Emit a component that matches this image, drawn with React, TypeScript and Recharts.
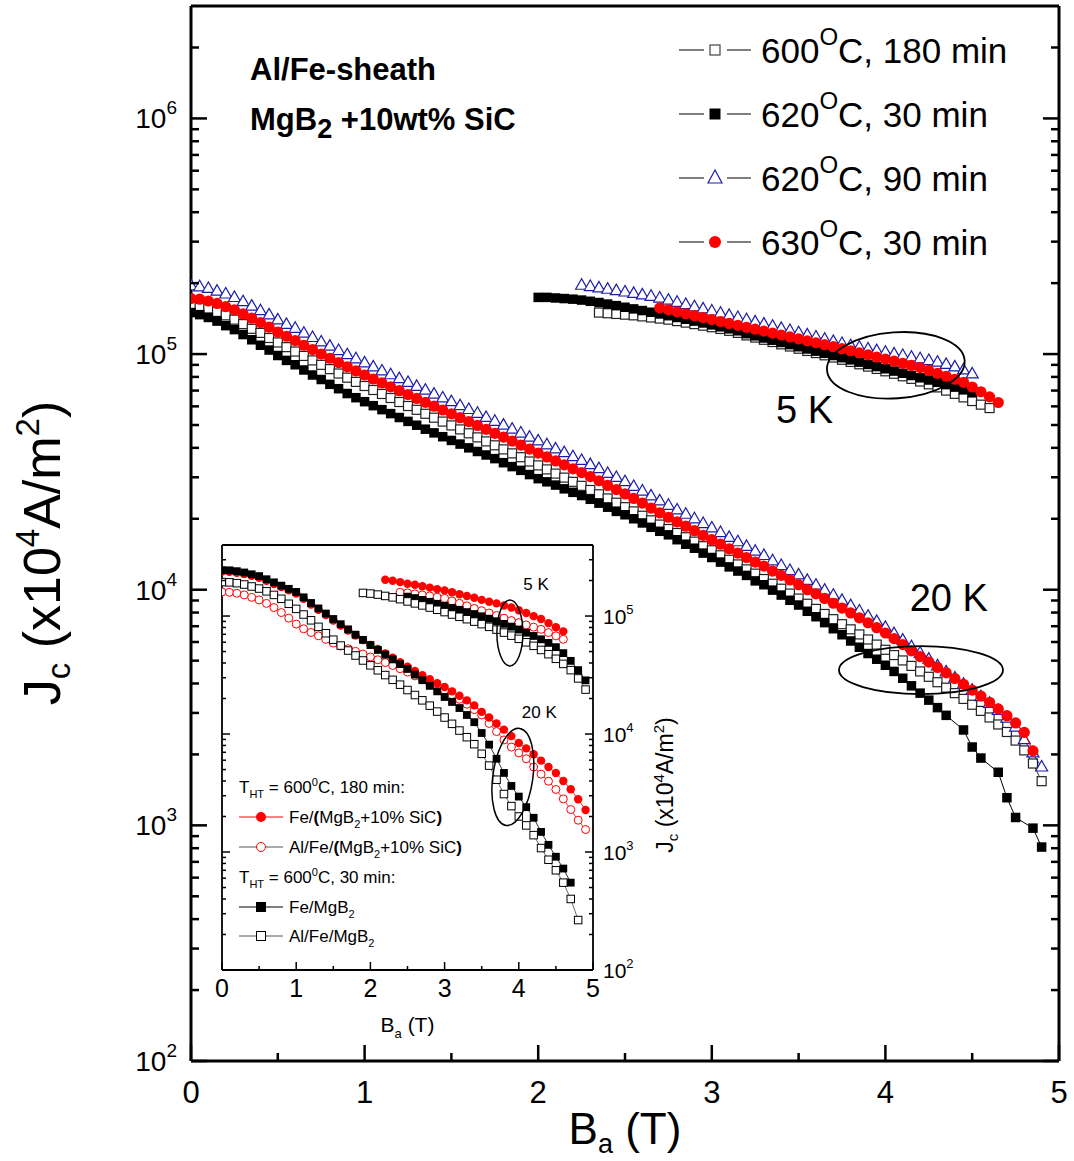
import React from "react";
import { ScatterChart, Scatter, XAxis, YAxis, ReferenceDot, Legend } from "recharts";

const FONT = "'Liberation Sans', Arial, Helvetica, sans-serif";
const NAVY = "#1c1ca8";
const RED = "#ff0000";

// ---------------- main chart: applied field grids (T) ----------------
const MAIN_20K_B = [
  0, 0.05, 0.1, 0.15, 0.2, 0.25, 0.3, 0.35, 0.4, 0.45,
  0.5, 0.55, 0.6, 0.65, 0.7, 0.75, 0.8, 0.85, 0.9, 0.95,
  1, 1.05, 1.1, 1.15, 1.2, 1.25, 1.3, 1.35, 1.4, 1.45,
  1.5, 1.55, 1.6, 1.65, 1.7, 1.75, 1.8, 1.85, 1.9, 1.95,
  2, 2.05, 2.1, 2.15, 2.2, 2.25, 2.3, 2.35, 2.4, 2.45,
  2.5, 2.55, 2.6, 2.65, 2.7, 2.75, 2.8, 2.85, 2.9, 2.95,
  3, 3.05, 3.1, 3.15, 3.2, 3.25, 3.3, 3.35, 3.4, 3.45,
  3.5, 3.55, 3.6, 3.65, 3.7, 3.75, 3.8, 3.85, 3.9, 3.95,
  4, 4.05, 4.1, 4.15, 4.2, 4.25, 4.3, 4.35, 4.4, 4.45,
  4.5, 4.55, 4.6, 4.65, 4.7, 4.75, 4.8, 4.85, 4.9,
];
const MAIN_5K_B = [
  2, 2.05, 2.1, 2.15, 2.2, 2.25, 2.3, 2.35, 2.4, 2.45,
  2.5, 2.55, 2.6, 2.65, 2.7, 2.75, 2.8, 2.85, 2.9, 2.95,
  3, 3.05, 3.1, 3.15, 3.2, 3.25, 3.3, 3.35, 3.4, 3.45,
  3.5, 3.55, 3.6, 3.65, 3.7, 3.75, 3.8, 3.85, 3.9, 3.95,
  4, 4.05, 4.1, 4.15, 4.2, 4.25, 4.3, 4.35, 4.4, 4.45,
  4.5, 4.55, 4.6, 4.65,
];

// Jc (x10^4 A/m^2), 20 K
const J20_600C_180 = [
  161000, 159000, 156000, 151000, 146000, 140000, 134000, 128000, 123000, 117000,
  112000, 107000, 102500, 98200, 94000, 90000, 86300, 82700, 79400, 76200,
  73200, 70400, 67700, 65100, 62600, 60200, 58000, 55800, 53700, 51700,
  49800, 47900, 46100, 44300, 42600, 41000, 39400, 37900, 36500, 35000,
  33700, 32400, 31100, 29900, 28700, 27600, 26500, 25400, 24400, 23400,
  22400, 21500, 20600, 19700, 18900, 18100, 17400, 16700, 16000, 15300,
  14700, 14000, 13400, 12800, 12200, 11700, 11100, 10600, 10100, 9630,
  9170, 8720, 8290, 7890, 7500, 7140, 6790, 6460, 6150, 5850,
  5560, 5280, 5010, 4750, 4500, 4270, 4050, 3840, 3640, 3440,
  3250, 3060, 2870, 2680, 2490, 2290, 2080, 1830, 1540,
];
const J20_620C_30 = [
  150000, 147000, 143000, 138000, 132000, 127000, 121000, 115000, 109000, 104000,
  98600, 94000, 90100, 85600, 81500, 78000, 74400, 71300, 68000, 65300,
  62800, 60400, 58100, 55900, 53800, 51800, 49900, 48000, 46300, 44600,
  43000, 41500, 40000, 38600, 37300, 36000, 34600, 33300, 32100, 30800,
  29600, 28700, 27800, 26800, 25900, 25100, 24200, 23300, 22400, 21500,
  20800, 20000, 19200, 18400, 17700, 17100, 16300, 15600, 15000, 14300,
  13700, 13100, 12500, 12000, 11500, 10900, 10500, 9960, 9490, 9020,
  8610, 8100, 7680, 7250, 6830, 6440, 6060, 5700, 5360, 5070,
  4780, 4500, 4210, 3910, 3640, 3400, 3160, 2930, null, 2540,
  2150, 1930, null, 1680, 1310, 1080, null, 973, 809,
];
const J20_620C_90 = [
  194000, 192000, 189000, 184000, 179000, 173000, 166000, 159000, 152000, 146000,
  139000, 133000, 128000, 122000, 117000, 112000, 107500, 103000, 98900, 95000,
  91300, 87800, 84400, 81300, 78300, 75400, 72600, 69900, 67300, 64800,
  62500, 60100, 57900, 55800, 53600, 51600, 49700, 47800, 46000, 44200,
  42600, 41000, 39400, 38000, 36500, 35200, 33800, 32500, 31000, 29800,
  28600, 27300, 26100, 24900, 23700, 22700, 21700, 20800, 19900, 19000,
  18200, 17400, 16600, 15900, 15200, 14500, 13900, 13200, 12600, 12000,
  11500, 10900, 10400, 9900, 9430, 8970, 8520, 8080, 7680, 7300,
  6890, 6480, 6080, 5700, 5360, 5050, 4730, 4460, 4200, 3950,
  3730, 3500, 3280, 3060, 2840, 2600, 2300, 2020, 1760,
];
const J20_630C_30 = [
  172000, 171000, 168000, 164000, 159000, 154000, 148000, 142000, 136000, 130000,
  124000, 119000, 114000, 109000, 104500, 100000, 96000, 92000, 88300, 84800,
  81500, 78400, 75400, 72600, 69900, 67300, 64800, 62400, 60100, 57900,
  55800, 53700, 51700, 49800, 47900, 46100, 44400, 42700, 41100, 39500,
  38000, 36600, 35200, 33900, 32600, 31400, 30200, 29000, 27700, 26600,
  25500, 24400, 23300, 22200, 21200, 20300, 19400, 18600, 17800, 17000,
  16300, 15600, 14900, 14300, 13700, 13100, 12600, 12000, 11500, 11000,
  10500, 10000, 9600, 9180, 8760, 8360, 7970, 7600, 7240, 6900,
  6550, 6200, 5850, 5500, 5200, 4930, 4680, 4440, 4200, 3970,
  3750, 3540, 3330, 3120, 2920, 2720, 2480, 2070, null,
];

// Jc, 5 K
const J5_600C_180 = [
  null, null, null, null, null, null, null, 150000, 149000, 148000,
  147000, 146000, 144500, 143000, 141500, 140000, 138000, 136000, 134000, 132000,
  130000, 127800, 125500, 123000, 120000, 117500, 115000, 112500, 110000, 107700,
  105400, 103100, 101000, 98800, 96700, 94600, 92600, 90500, 88500, 86500,
  84500, 82500, 80500, 78500, 76500, 74400, 72200, 70000, 67800, 65500,
  63200, 61000, 59000, null,
];
const J5_620C_30 = [
  174000, 174000, 173000, 172000, 171000, 169500, 167500, 165500, 163000, 160500,
  158000, 155500, 153000, 150500, 148000, 145500, 143000, 140500, 138000, 135500,
  133000, 130500, 128000, 125500, 122000, 119500, 117000, 114500, 112000, 109700,
  107400, 105100, 102900, 100700, 98600, 96500, 94500, 92400, 90400, 88500,
  86600, 84700, 82900, 81100, 79300, 77600, 75900, 74200, 72400, 70500,
  68500, null, null, null,
];
const J5_620C_90 = [
  null, null, null, null, null, 195000, 192500, 190000, 187500, 185000,
  182500, 180000, 177500, 175000, 172000, 168500, 165000, 161500, 158000, 154700,
  151500, 148300, 145200, 142200, 139200, 136300, 133400, 130600, 127900, 125200,
  122600, 120000, 117500, 115000, 112600, 110300, 108000, 106300, 104600, 102900,
  101300, 99700, 98100, 96500, 95000, 93400, 91900, 90000, 87800, 85300,
  82000, null, null, null,
];
const J5_630C_30 = [
  null, null, null, null, null, null, null, null, null, null,
  null, null, null, null, 157000, 154000, 151000, 148300, 145500, 142800,
  140100, 137500, 134900, 132400, 129900, 127500, 125100, 122800, 120500, 118200,
  116000, 113800, 111700, 109600, 107500, 105400, 103300, 101200, 99200, 97200,
  95200, 93300, 91400, 89500, 87600, 85200, 82800, 80500, 78200, 75900,
  72500, 69200, 65800, 62300,
];

// ---------------- inset ----------------
const INSET_B = [
  0, 0.1, 0.2, 0.3, 0.4, 0.5, 0.6, 0.7, 0.8, 0.9,
  1, 1.1, 1.2, 1.3, 1.4, 1.5, 1.6, 1.7, 1.8, 1.9,
  2, 2.1, 2.2, 2.3, 2.4, 2.5, 2.6, 2.7, 2.8, 2.9,
  3, 3.1, 3.2, 3.3, 3.4, 3.5, 3.6, 3.7, 3.8, 3.9,
  4, 4.1, 4.2, 4.3, 4.4, 4.5, 4.6, 4.7, 4.8, 4.9,
];
const IN20_FE_SIC = [
  238000, 237000, 233000, 227000, 219000, 211000, 199000, 187000, 176000, 165000,
  155000, 140000, 125000, 113000, 102000, 91500, 83000, 75500, 68500, 62500,
  57000, 52500, 48200, 44300, 40600, 37200, 34200, 31500, 29100, 26900,
  25000, 23000, 21100, 19300, 17500, 15400, 13800, 12300, 10900, 9600,
  8400, 7560, 6750, 5950, 5250, 4670, 4000, 3400, 2800, 2270,
];
const IN20_ALFE_SIC = [
  160000, 159000, 156000, 151000, 144000, 137000, 128000, 118000, 107000, 96000,
  85500, 78000, 72500, 68000, 63500, 59000, 55700, 52800, 50200, 47600,
  45000, 42600, 40300, 38100, 35800, 33500, 31100, 28900, 26800, 25100,
  23600, 21600, 19700, 17900, 16100, 14500, 12300, 10500, 8910, 7760,
  6920, 6170, 5250, 4570, 3980, 3390, 2820, 2290, 1860, 1550,
];
const IN20_FE_MGB = [
  245000, 244000, 240000, 234000, 226000, 218000, 205000, 193000, 181000, 170000,
  160000, 144000, 129000, 116000, 105000, 94400, 85300, 77100, 69500, 62800,
  56800, 51600, 47100, 42900, 39100, 35600, 31900, 28600, 25600, 23000,
  20600, 18700, 16600, 14500, 12600, 10200, 8130, 6170, 4680, 3630,
  2950, 2400, 1950, 1480, 1150, 912, 724, 550, null, null,
];
const IN20_ALFE_MGB = [
  194000, 193000, 190000, 185000, 178000, 171000, 162000, 151000, 140000, 127000,
  115000, 103000, 92000, 81000, 71500, 63000, 56200, 51000, 46300, 42000,
  38200, 34700, 31600, 28800, 26200, 23600, 21400, 19300, 17400, 15500,
  13800, 12200, 10700, 9400, 8200, 6800, 5400, 4100, 3100, 2450,
  2000, 1680, 1390, 1080, 860, 700, 550, 400, 265, null,
];
const IN5_FE_SIC = [
  null, null, null, null, null, null, null, null, null, null,
  null, null, null, null, null, null, null, null, null, null,
  null, null, 203000, 199000, 194000, 188000, 184000, 179000, 174000, 169000,
  165000, 159000, 153000, 148000, 143000, 137000, 132000, 128000, 123000, 118000,
  112000, 106000, 99800, 94400, 87100, 80400, 74100, null, null, null,
];
const IN5_ALFE_SIC = [
  null, null, null, null, null, null, null, null, null, null,
  null, null, null, null, null, null, null, null, null, null,
  null, null, null, null, 159000, 157000, 154000, 151000, 148000, 144500,
  141000, 134000, 128000, 122000, 116000, 111000, 106000, 101000, 95900, 91600,
  87900, 84100, 80500, 77100, 72400, 67900, 63500, null, null, null,
];
const IN5_FE_MGB = [
  null, null, null, null, null, null, null, null, null, null,
  null, null, null, null, null, null, null, null, null, null,
  null, null, null, null, null, 146000, 142000, 137000, 132000, 127000,
  122000, 117000, 113000, 108000, 104000, 99500, 95000, 90400, 85800, 81300,
  76800, 72200, 67800, 63500, 59200, 54500, 48500, 41700, 34800, 28500,
];
const IN5_ALFE_MGB = [
  null, null, null, null, null, null, null, null, null, null,
  null, null, null, null, null, null, null, null, null, 157000,
  155000, 152000, 148000, 144000, 139000, 133000, 128000, 123000, 118000, 113000,
  108000, 103000, 98500, 94000, 89700, 85400, 81000, 76700, 72400, 68200,
  64100, 59900, 55900, 51600, 47500, 43400, 39300, 34800, 29600, 23800,
];

// ---------------- ticks ----------------
const MAIN_X_TICKS = [0, 0.5, 1, 1.5, 2, 2.5, 3, 3.5, 4, 4.5, 5];
const MAIN_Y_TICKS = [
  100, 200, 300, 400, 500, 600, 700, 800, 900,
  1000, 2000, 3000, 4000, 5000, 6000, 7000, 8000, 9000,
  10000, 20000, 30000, 40000, 50000, 60000, 70000, 80000, 90000,
  100000, 200000, 300000, 400000, 500000, 600000, 700000, 800000, 900000,
  1000000, 2000000,
];
const INSET_Y_TICKS = [
  100, 200, 300, 400, 500, 600, 700, 800, 900,
  1000, 2000, 3000, 4000, 5000, 6000, 7000, 8000, 9000,
  10000, 20000, 30000, 40000, 50000, 60000, 70000, 80000, 90000,
  100000, 200000, 300000,
];

const pts = (bs: number[], js: (number | null)[]) =>
  bs.map((B, i) => ({ B, J: js[i] })).filter((p) => p.J != null);

// ---------------- marker shapes ----------------
const sq = (s: number, fill: string, stroke: string, sw = 1.2) => (p: any) =>
  p.cx == null ? null : (
    <rect x={p.cx - s / 2} y={p.cy - s / 2} width={s} height={s} fill={fill} stroke={stroke} strokeWidth={sw} />
  );
const circ = (r: number, fill: string, stroke: string, sw = 1) => (p: any) =>
  p.cx == null ? null : <circle cx={p.cx} cy={p.cy} r={r} fill={fill} stroke={stroke} strokeWidth={sw} />;
const tri = (w: number, h: number, stroke: string) => (p: any) =>
  p.cx == null ? null : (
    <polygon
      points={`${p.cx},${p.cy - (2 * h) / 3} ${p.cx - w / 2},${p.cy + h / 3} ${p.cx + w / 2},${p.cy + h / 3}`}
      fill="#fff"
      stroke={stroke}
      strokeWidth={1.2}
    />
  );

const isDecade = (v: number) => Math.abs(Math.log10(v) - Math.round(Math.log10(v))) < 1e-6;

// ---------------- main axis ticks ----------------
const MainLeftTick = (p: any) => {
  const v = p.payload.value;
  const major = isDecade(v);
  return (
    <g>
      <line x1={p.x} y1={p.y} x2={p.x + (major ? 16 : 8)} y2={p.y} stroke="#000" strokeWidth={2.5} />
      {major && (
        <text x={p.x - 14} y={p.y + 10} textAnchor="end" fontFamily={FONT} fontSize={28} fill="#000">
          10<tspan dy={-14} fontSize={19}>{Math.round(Math.log10(v))}</tspan>
        </text>
      )}
    </g>
  );
};
const MainRightTick = (p: any) => {
  const major = isDecade(p.payload.value);
  return <line x1={p.x} y1={p.y} x2={p.x - (major ? 16 : 8)} y2={p.y} stroke="#000" strokeWidth={2.5} />;
};
const MainBottomTick = (p: any) => {
  const v = p.payload.value;
  const major = Number.isInteger(v);
  return (
    <g>
      <line x1={p.x} y1={p.y} x2={p.x} y2={p.y - (major ? 16 : 8)} stroke="#000" strokeWidth={2.5} />
      {major && (
        <text x={p.x} y={p.y + 42} textAnchor="middle" fontFamily={FONT} fontSize={31} fill="#000">
          {v}
        </text>
      )}
    </g>
  );
};
const MainTopTick = (p: any) => {
  const major = Number.isInteger(p.payload.value);
  return <line x1={p.x} y1={p.y} x2={p.x} y2={p.y + (major ? 16 : 8)} stroke="#000" strokeWidth={2.5} />;
};
const MainXTitle = (p: any) => {
  const vb = p.viewBox;
  return (
    <text x={vb.x + vb.width / 2} y={vb.y + 83} textAnchor="middle" fontFamily={FONT} fontSize={44} fill="#000">
      B<tspan dy={9} fontSize={27}>a</tspan>
      <tspan dy={-9}> (T)</tspan>
    </text>
  );
};
const MainYTitle = (p: any) => {
  const vb = p.viewBox;
  return (
    <g transform={`translate(${vb.x - 130},${vb.y + 547}) rotate(-90)`}>
      <text x={0} y={0} textAnchor="middle" fontFamily={FONT} fontSize={52} fill="#000">
        J<tspan dy={10} fontSize={33}>c</tspan>
        <tspan dy={-10}> (x10</tspan>
        <tspan dy={-21} fontSize={33}>4</tspan>
        <tspan dy={21}>A/m</tspan>
        <tspan dy={-21} fontSize={33}>2</tspan>
        <tspan dy={21}>)</tspan>
      </text>
    </g>
  );
};

// ---------------- inset axis ticks ----------------
const InLeftTick = (p: any) => {
  const major = isDecade(p.payload.value);
  return <line x1={p.x} y1={p.y} x2={p.x + (major ? 8 : 4)} y2={p.y} stroke="#000" strokeWidth={1.5} />;
};
const InRightTick = (p: any) => {
  const v = p.payload.value;
  const major = isDecade(v);
  return (
    <g>
      <line x1={p.x} y1={p.y} x2={p.x - (major ? 8 : 4)} y2={p.y} stroke="#000" strokeWidth={1.5} />
      {major && (
        <text x={p.x + 10} y={p.y + 8} textAnchor="start" fontFamily={FONT} fontSize={21} fill="#000">
          10<tspan dy={-10} fontSize={13}>{Math.round(Math.log10(v))}</tspan>
        </text>
      )}
    </g>
  );
};
const InBottomTick = (p: any) => {
  const v = p.payload.value;
  const major = Number.isInteger(v);
  return (
    <g>
      <line x1={p.x} y1={p.y} x2={p.x} y2={p.y - (major ? 8 : 4)} stroke="#000" strokeWidth={1.5} />
      {major && (
        <text x={p.x} y={p.y + 27} textAnchor="middle" fontFamily={FONT} fontSize={25} fill="#000">
          {v}
        </text>
      )}
    </g>
  );
};
const InTopTick = (p: any) => {
  const major = Number.isInteger(p.payload.value);
  return <line x1={p.x} y1={p.y} x2={p.x} y2={p.y + (major ? 8 : 4)} stroke="#000" strokeWidth={1.5} />;
};
const InXTitle = (p: any) => {
  const vb = p.viewBox;
  return (
    <text x={vb.x + vb.width / 2} y={vb.y + 62} textAnchor="middle" fontFamily={FONT} fontSize={21} fill="#000">
      B<tspan dy={6} fontSize={13}>a</tspan>
      <tspan dy={-6}> (T)</tspan>
    </text>
  );
};
const InYTitle = (p: any) => {
  const vb = p.viewBox;
  return (
    <g transform={`translate(${vb.x + 80},${vb.y + 240}) rotate(-90)`}>
      <text x={0} y={0} textAnchor="middle" fontFamily={FONT} fontSize={23} fill="#000">
        J<tspan dy={5} fontSize={15}>c</tspan>
        <tspan dy={-5}> (x10</tspan>
        <tspan dy={-9} fontSize={15}>4</tspan>
        <tspan dy={9}>A/m</tspan>
        <tspan dy={-9} fontSize={15}>2</tspan>
        <tspan dy={9}>)</tspan>
      </text>
    </g>
  );
};

// ---------------- legends ----------------
const MAIN_LEGEND = [
  { t: "600", rest: "C, 180 min", kind: "open" },
  { t: "620", rest: "C, 30 min", kind: "filled" },
  { t: "620", rest: "C, 90 min", kind: "tri" },
  { t: "630", rest: "C, 30 min", kind: "red" },
];
const legendMarker = (kind: string, cx: number, cy: number) => {
  if (kind === "open") return <rect x={cx - 5} y={cy - 5} width={10} height={10} fill="#fff" stroke="#444" strokeWidth={1.2} />;
  if (kind === "filled") return <rect x={cx - 5.5} y={cy - 5.5} width={11} height={11} fill="#000" />;
  if (kind === "tri")
    return <polygon points={`${cx},${cy - 8} ${cx - 7},${cy + 5} ${cx + 7},${cy + 5}`} fill="#fff" stroke={NAVY} strokeWidth={1.2} />;
  return <circle cx={cx} cy={cy} r={6} fill={RED} />;
};
const MainLegend = () => (
  <svg width={404} height={280} style={{ display: "block" }}>
    {MAIN_LEGEND.map((r, i) => {
      const cy = 50 + 64 * i;
      return (
        <g key={i}>
          <line x1={9} y1={cy} x2={34} y2={cy} stroke="#000" strokeWidth={1} />
          <line x1={57} y1={cy} x2={81} y2={cy} stroke="#000" strokeWidth={1} />
          {legendMarker(r.kind, 45, cy)}
          <text x={91} y={cy + 13} fontFamily={FONT} fontSize={35} fill="#000">
            {r.t}
            <tspan dy={-18} fontSize={24}>O</tspan>
            <tspan dy={18}>{r.rest}</tspan>
          </text>
        </g>
      );
    })}
  </svg>
);

const InsetLegend = () => (
  <svg width={260} height={190} style={{ display: "block" }}>
    <text x={9} y={23} fontFamily={FONT} fontSize={17} fill="#000">
      T<tspan dy={5} fontSize={11}>HT</tspan>
      <tspan dy={-5}> = 600</tspan>
      <tspan dy={-7} fontSize={11}>0</tspan>
      <tspan dy={7}>C, 180 min:</tspan>
    </text>
    <line x1={9} y1={47} x2={53} y2={47} stroke={RED} strokeWidth={1} />
    <circle cx={31} cy={47} r={5} fill={RED} />
    <text x={59} y={53} fontFamily={FONT} fontSize={17} fill="#000">
      Fe/<tspan fontWeight="bold">(</tspan>MgB<tspan dy={5} fontSize={11}>2</tspan>
      <tspan dy={-5}>+10% SiC</tspan>
      <tspan fontWeight="bold">)</tspan>
    </text>
    <line x1={9} y1={77} x2={53} y2={77} stroke="#555" strokeWidth={1} />
    <circle cx={31} cy={77} r={4.5} fill="#fff" stroke={RED} strokeWidth={1} />
    <text x={59} y={83} fontFamily={FONT} fontSize={17} fill="#000">
      Al/Fe/<tspan fontWeight="bold">(</tspan>MgB<tspan dy={5} fontSize={11}>2</tspan>
      <tspan dy={-5}>+10% SiC</tspan>
      <tspan fontWeight="bold">)</tspan>
    </text>
    <text x={9} y={113} fontFamily={FONT} fontSize={17} fill="#000">
      T<tspan dy={5} fontSize={11}>HT</tspan>
      <tspan dy={-5}> = 600</tspan>
      <tspan dy={-7} fontSize={11}>0</tspan>
      <tspan dy={7}>C, 30 min:</tspan>
    </text>
    <line x1={9} y1={137} x2={53} y2={137} stroke="#000" strokeWidth={1} />
    <rect x={26} y={132} width={10} height={10} fill="#000" />
    <text x={59} y={143} fontFamily={FONT} fontSize={17} fill="#000">
      Fe/MgB<tspan dy={5} fontSize={11}>2</tspan>
    </text>
    <line x1={9} y1={166} x2={53} y2={166} stroke="#555" strokeWidth={1} />
    <rect x={26.5} y={161.5} width={9} height={9} fill="#fff" stroke="#000" strokeWidth={1} />
    <text x={59} y={172} fontFamily={FONT} fontSize={17} fill="#000">
      Al/Fe/MgB<tspan dy={5} fontSize={11}>2</tspan>
    </text>
  </svg>
);

// ---------------- annotation shapes ----------------
const ellipseShape = (rx: number, ry: number, rot: number, sw: number) => (p: any) =>
  <ellipse cx={p.cx} cy={p.cy} rx={rx} ry={ry} fill="none" stroke="#000" strokeWidth={sw} transform={`rotate(${rot} ${p.cx} ${p.cy})`} />;
const textShape = (content: React.ReactNode, size: number, bold = false) => (p: any) =>
  (
    <text x={p.cx} y={p.cy} fontFamily={FONT} fontSize={size} fontWeight={bold ? "bold" : "normal"} fill="#000">
      {content}
    </text>
  );

const axisLine = { stroke: "#000", strokeWidth: 3 };
const inAxisLine = { stroke: "#000", strokeWidth: 1.8 };

export default function App() {
  return (
    <div style={{ position: "absolute", left: 0, top: 0, width: 1074, height: 1161, background: "#fff" }}>
      <ScatterChart width={1074} height={1161} margin={{ top: 5, right: 14, bottom: 99, left: 190 }}>
        <XAxis
          type="number" dataKey="B" domain={[0, 5]} ticks={MAIN_X_TICKS} interval={0} allowDataOverflow
          height={1} tickSize={0} tickMargin={0} tickLine={false} axisLine={axisLine} tick={MainBottomTick} label={MainXTitle}
        />
        <XAxis
          xAxisId="top" orientation="top" type="number" domain={[0, 5]} ticks={MAIN_X_TICKS} interval={0} allowDataOverflow
          height={1} tickSize={0} tickMargin={0} tickLine={false} axisLine={axisLine} tick={MainTopTick}
        />
        <YAxis
          type="number" dataKey="J" scale="log" domain={[100, 3000000]} ticks={MAIN_Y_TICKS} interval={0} allowDataOverflow
          width={1} tickSize={0} tickMargin={0} tickLine={false} axisLine={axisLine} tick={MainLeftTick} label={MainYTitle}
        />
        <YAxis
          yAxisId="right" orientation="right" type="number" scale="log" domain={[100, 3000000]} ticks={MAIN_Y_TICKS} interval={0} allowDataOverflow
          width={1} tickSize={0} tickMargin={0} tickLine={false} axisLine={axisLine} tick={MainRightTick}
        />
        <Legend layout="vertical" align="center" verticalAlign="middle" content={MainLegend}
          wrapperStyle={{ left: 670, top: 0, width: 404, height: 280 }} />

        <Scatter name="600C180-20K" data={pts(MAIN_20K_B, J20_600C_180)} shape={sq(9, "#fff", "#222")} line={{ stroke: "#333", strokeWidth: 1 }} lineType="joint" isAnimationActive={false} />
        <Scatter name="600C180-5K" data={pts(MAIN_5K_B, J5_600C_180)} shape={sq(9, "#fff", "#222")} line={{ stroke: "#333", strokeWidth: 1 }} lineType="joint" isAnimationActive={false} />
        <Scatter name="620C30-20K" data={pts(MAIN_20K_B, J20_620C_30)} shape={sq(9.5, "#000", "#000", 0)} line={{ stroke: "#000", strokeWidth: 1 }} lineType="joint" isAnimationActive={false} />
        <Scatter name="620C30-5K" data={pts(MAIN_5K_B, J5_620C_30)} shape={sq(9.5, "#000", "#000", 0)} line={{ stroke: "#000", strokeWidth: 1 }} lineType="joint" isAnimationActive={false} />
        <Scatter name="620C90-20K" data={pts(MAIN_20K_B, J20_620C_90)} shape={tri(12, 10.5, NAVY)} line={{ stroke: NAVY, strokeWidth: 1 }} lineType="joint" isAnimationActive={false} />
        <Scatter name="620C90-5K" data={pts(MAIN_5K_B, J5_620C_90)} shape={tri(12, 10.5, NAVY)} line={{ stroke: NAVY, strokeWidth: 1 }} lineType="joint" isAnimationActive={false} />
        <Scatter name="630C30-20K" data={pts(MAIN_20K_B, J20_630C_30)} shape={circ(5.6, RED, RED, 0)} line={{ stroke: RED, strokeWidth: 1 }} lineType="joint" isAnimationActive={false} />
        <Scatter name="630C30-5K" data={pts(MAIN_5K_B, J5_630C_30)} shape={circ(5.6, RED, RED, 0)} line={{ stroke: RED, strokeWidth: 1 }} lineType="joint" isAnimationActive={false} />

        <ReferenceDot x={4.06} y={89600} r={1} shape={ellipseShape(69, 33, -4, 1.8)} />
        <ReferenceDot x={4.205} y={4560} r={1} shape={ellipseShape(82, 24, 0, 1.8)} />
        <ReferenceDot x={3.37} y={50800} r={1} shape={textShape("5 K", 38)} />
        <ReferenceDot x={4.14} y={8100} r={1} shape={textShape("20 K", 38)} />
        <ReferenceDot x={0.34} y={1450000} r={1} shape={textShape("Al/Fe-sheath", 31, true)} />
        <ReferenceDot
          x={0.34} y={890000} r={1}
          shape={textShape(
            <>
              MgB<tspan dy={8} fontSize={27}>2</tspan>
              <tspan dy={-8}> +10wt% SiC</tspan>
            </>,
            31,
            true
          )}
        />
      </ScatterChart>

      <div style={{ position: "absolute", left: 200, top: 530 }}>
        <ScatterChart width={480} height={520} margin={{ top: 14, right: 86, bottom: 79, left: 21 }}>
          <XAxis
            type="number" dataKey="B" domain={[0, 5]} ticks={MAIN_X_TICKS} interval={0} allowDataOverflow
            height={1} tickSize={0} tickMargin={0} tickLine={false} axisLine={inAxisLine} tick={InBottomTick} label={InXTitle}
          />
          <XAxis
            xAxisId="top" orientation="top" type="number" domain={[0, 5]} ticks={MAIN_X_TICKS} interval={0} allowDataOverflow
            height={1} tickSize={0} tickMargin={0} tickLine={false} axisLine={inAxisLine} tick={InTopTick}
          />
          <YAxis
            type="number" dataKey="J" scale="log" domain={[100, 400000]} ticks={INSET_Y_TICKS} interval={0} allowDataOverflow
            width={1} tickSize={0} tickMargin={0} tickLine={false} axisLine={inAxisLine} tick={InLeftTick}
          />
          <YAxis
            yAxisId="right" orientation="right" type="number" scale="log" domain={[100, 400000]} ticks={INSET_Y_TICKS} interval={0} allowDataOverflow
            width={1} tickSize={0} tickMargin={0} tickLine={false} axisLine={inAxisLine} tick={InRightTick} label={InYTitle}
          />
          <Legend layout="vertical" align="center" verticalAlign="middle" content={InsetLegend}
            wrapperStyle={{ left: 30, top: 240, width: 260, height: 190 }} />

          <Scatter name="AlFeSiC-20K" data={pts(INSET_B, IN20_ALFE_SIC)} shape={circ(4, "#fff", RED, 1)} line={{ stroke: RED, strokeWidth: 0.8 }} lineType="joint" isAnimationActive={false} />
          <Scatter name="AlFeSiC-5K" data={pts(INSET_B, IN5_ALFE_SIC)} shape={circ(4, "#fff", RED, 1)} line={{ stroke: RED, strokeWidth: 0.8 }} lineType="joint" isAnimationActive={false} />
          <Scatter name="FeSiC-20K" data={pts(INSET_B, IN20_FE_SIC)} shape={circ(4.2, RED, RED, 0)} line={{ stroke: RED, strokeWidth: 0.8 }} lineType="joint" isAnimationActive={false} />
          <Scatter name="FeSiC-5K" data={pts(INSET_B, IN5_FE_SIC)} shape={circ(4.2, RED, RED, 0)} line={{ stroke: RED, strokeWidth: 0.8 }} lineType="joint" isAnimationActive={false} />
          <Scatter name="FeMgB-20K" data={pts(INSET_B, IN20_FE_MGB)} shape={sq(7.8, "#000", "#000", 0)} line={{ stroke: "#000", strokeWidth: 0.8 }} lineType="joint" isAnimationActive={false} />
          <Scatter name="FeMgB-5K" data={pts(INSET_B, IN5_FE_MGB)} shape={sq(7.8, "#000", "#000", 0)} line={{ stroke: "#000", strokeWidth: 0.8 }} lineType="joint" isAnimationActive={false} />
          <Scatter name="AlFeMgB-20K" data={pts(INSET_B, IN20_ALFE_MGB)} shape={sq(7.5, "#fff", "#000", 1)} line={{ stroke: "#444", strokeWidth: 0.8 }} lineType="joint" isAnimationActive={false} />
          <Scatter name="AlFeMgB-5K" data={pts(INSET_B, IN5_ALFE_MGB)} shape={sq(7.5, "#fff", "#000", 1)} line={{ stroke: "#444", strokeWidth: 0.8 }} lineType="joint" isAnimationActive={false} />

          <ReferenceDot x={3.88} y={71800} r={1} shape={ellipseShape(13, 33, 0, 1.5)} />
          <ReferenceDot x={3.92} y={4330} r={1} shape={ellipseShape(20, 49, 8, 1.5)} />
          <ReferenceDot x={4.06} y={166000} r={1} shape={textShape("5 K", 17)} />
          <ReferenceDot x={4.04} y={13700} r={1} shape={textShape("20 K", 17)} />
        </ScatterChart>
      </div>
    </div>
  );
}
